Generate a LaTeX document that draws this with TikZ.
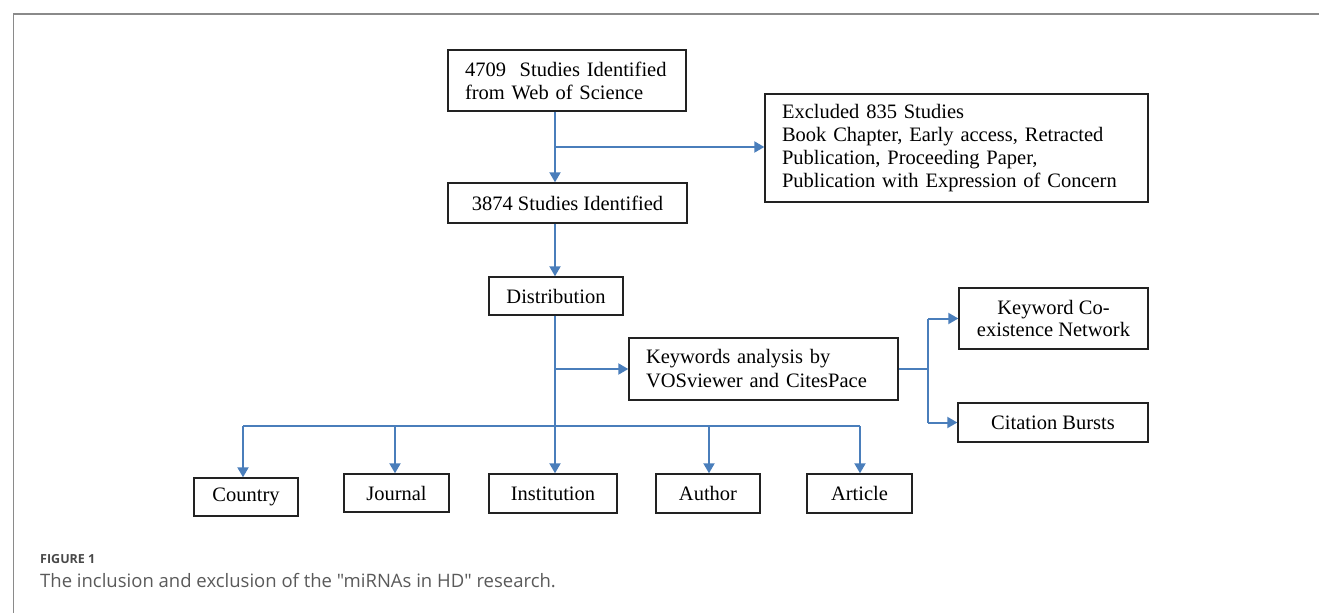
\documentclass[tikz,border=0pt]{standalone}
\usepackage{fontspec}
\setmainfont{Liberation Serif}
\newfontfamily\capfont{Open Sans}
\usetikzlibrary{arrows.meta}
\definecolor{flowblue}{HTML}{4A7EBB}
\definecolor{boxline}{HTML}{222222}
\definecolor{framegrey}{HTML}{8A8A8A}
\definecolor{capgrey}{HTML}{5A5A5A}
\tikzset{
  box/.style={draw=boxline, line width=1.4pt, rectangle, inner sep=0pt, font=\fontsize{20.5}{23}\selectfont},
  conn/.style={draw=flowblue, line width=2pt},
  arr/.style={conn, -{Triangle[length=10pt,width=11pt]}},
}
\begin{document}
\begin{tikzpicture}[x=1pt,y=-1pt]
\useasboundingbox (0,0) rectangle (1319,613);
% frame
\draw[framegrey, line width=2pt] (13,14) -- (1319,14);
\draw[framegrey, line width=1pt] (13,14) -- (13,613);

% nodes
\node[box, minimum width=238pt, minimum height=61pt, align=left, text width=204pt] (b1) at (567,80.5) {4709\ \ Studies Identified\\from Web of Science};
\node[box, minimum width=239pt, minimum height=40pt] (b2) at (567.5,203) {3874 Studies Identified};
\node[box, minimum width=383pt, minimum height=108pt, align=left, text width=349pt, font=\fontsize{20.5}{23}\selectfont] (ex) at (956.5,148) {Excluded 835 Studies\\Book Chapter, Early access, Retracted\\Publication, Proceeding Paper,\\Publication with Expression of Concern};
\node[box, minimum width=134pt, minimum height=38pt] (dist) at (556,296) {Distribution};
\node[box, minimum width=269pt, minimum height=62pt, align=left, text width=235pt, font=\fontsize{20.5}{24}\selectfont] (kw) at (763.5,369) {Keywords analysis by\\VOSviewer and CitesPace};
\node[box, minimum width=189pt, minimum height=61pt, align=center, font=\fontsize{20.5}{22.5}\selectfont] (kc) at (1053.5,318.5) {Keyword Co-\\existence Network};
\node[box, minimum width=190pt, minimum height=39pt] (cb) at (1053,422.5) {Citation Bursts};
\node[box, minimum width=104pt, minimum height=38pt] (country) at (246,497) {Country};
\node[box, minimum width=105pt, minimum height=38pt] (journal) at (396.5,493) {Journal};
\node[box, minimum width=128pt, minimum height=39pt] (inst) at (553,493.5) {Institution};
\node[box, minimum width=104pt, minimum height=39pt] (author) at (708,493.5) {Author};
\node[box, minimum width=105pt, minimum height=39pt] (article) at (859.5,493.5) {Article};

% helper coordinates
\coordinate (s1) at (555,147);
\coordinate (s2) at (555,369);
\coordinate (hl) at (243,426);
\coordinate (hr) at (860,426);
\coordinate (kx) at (928,369);
\coordinate (ktop) at (928,318.5);
\coordinate (kbot) at (928,422.5);

% connectors
\draw[arr] (b1.south -| s1) -- (b2.north -| s1);
\draw[arr] (s1) -- (ex.west |- s1);
\draw[arr] (b2.south -| s1) -- (dist.north -| s1);
\draw[arr] (dist.south -| s1) -- (inst.north -| s1);
\draw[arr] (s2) -- (kw.west |- s2);
\draw[conn] (hl) -- (hr);
\draw[arr] (hl) -- (country.north -| hl);
\draw[arr] (hl -| 395,0) -- (journal.north -| 395,0);
\draw[arr] (hl -| 709,0) -- (author.north -| 709,0);
\draw[arr] (hr) -- (article.north -| hr);
\draw[conn] (kw.east |- kx) -- (kx);
\draw[conn] (ktop) -- (kbot);
\draw[arr] (ktop) -- (kc.west |- ktop);
\draw[arr] (kbot) -- (cb.west |- kbot);

% caption
\node[anchor=base west, inner sep=0pt, text=capgrey!80!black, font=\capfont\bfseries\fontsize{12.5}{14}\selectfont] (figlab) at (40,563) {FIGURE 1};
\node[anchor=base west, inner sep=0pt, text=capgrey, font=\capfont\fontsize{18.5}{20}\selectfont] (cap) at (40,587) {The inclusion and exclusion of the "miRNAs in HD" research.};
\end{tikzpicture}
\end{document}
